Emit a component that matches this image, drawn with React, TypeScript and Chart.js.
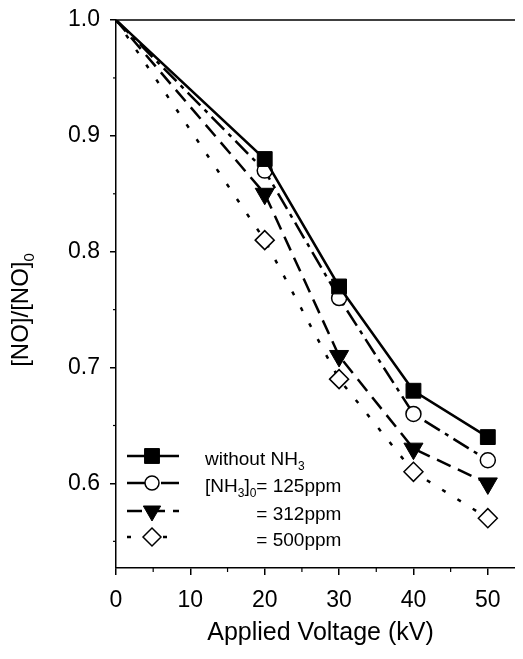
import { useEffect, useRef } from "react";
import { Chart, registerables } from "chart.js";
import { drawPoint } from "chart.js/helpers";

Chart.register(...registerables);

// ---------- data ----------
const voltages = [0, 20, 30, 40, 50];
const withoutNH3 = [1.0, 0.88, 0.77, 0.68, 0.64];
const nh3_125 = [1.0, 0.87, 0.76, 0.66, 0.62];
const nh3_312 = [1.0, 0.85, 0.71, 0.63, 0.6];
const nh3_500 = [1.0, 0.81, 0.69, 0.61, 0.57];

const xTicks = [0, 10, 20, 30, 40, 50];
const xMinorTicks = [5, 15, 25, 35, 45, 55];
const yTicks = [0.6, 0.7, 0.8, 0.9, 1.0];
const yMinorTicks = [0.55, 0.65, 0.75, 0.85, 0.95];

const xTitle = "Applied Voltage (kV)";
const yTitleParts: [string, boolean][] = [["[NO]/[NO]", false], ["0", true]];
const legendLabels: [string, boolean][][] = [
  [["without NH", false], ["3", true]],
  [["[NH", false], ["3", true], ["]", false], ["0", true], ["= 125ppm", false]],
  [["= 312ppm", false]],
  [["= 500ppm", false]],
];

const FONT = "'Liberation Sans', Arial, Helvetica, sans-serif";

function toPoints(ys: number[]) {
  return voltages.map((v, i) => ({ x: v, y: ys[i] }));
}

function drawRich(ctx: CanvasRenderingContext2D, parts: [string, boolean][], x: number, y: number, size: number, subSize: number, subDrop: number) {
  let cx = x;
  for (const [t, sub] of parts) {
    ctx.font = `${sub ? subSize : size}px ${FONT}`;
    ctx.fillText(t, cx, sub ? y + subDrop : y);
    cx += ctx.measureText(t).width;
  }
  return cx;
}

function measureRich(ctx: CanvasRenderingContext2D, parts: [string, boolean][], size: number, subSize: number) {
  let w = 0;
  for (const [t, sub] of parts) {
    ctx.font = `${sub ? subSize : size}px ${FONT}`;
    w += ctx.measureText(t).width;
  }
  return w;
}

const decorPlugin = {
  id: "decor",
  afterDraw(chart: any) {
    const { ctx, chartArea: ca, scales } = chart;
    const xs = scales.x;
    const ys = scales.y;
    ctx.save();
    ctx.strokeStyle = "#000";
    ctx.fillStyle = "#000";
    ctx.setLineDash([]);
    // top frame
    ctx.lineWidth = 1.5;
    ctx.beginPath();
    ctx.moveTo(ca.left, ca.top);
    ctx.lineTo(ca.right, ca.top);
    ctx.stroke();
    // minor ticks
    ctx.lineWidth = 1.2;
    for (const v of xMinorTicks) {
      const px = xs.getPixelForValue(v);
      ctx.beginPath();
      ctx.moveTo(px, ca.bottom);
      ctx.lineTo(px, ca.bottom + 4);
      ctx.stroke();
    }
    for (const v of yMinorTicks) {
      const py = ys.getPixelForValue(v);
      ctx.beginPath();
      ctx.moveTo(ca.left, py);
      ctx.lineTo(ca.left - 3, py);
      ctx.stroke();
    }

    // y title (rotated, with subscript)
    ctx.save();
    const tw = measureRich(ctx, yTitleParts, 24, 15);
    ctx.translate(ca.left - 95, 302);
    ctx.rotate(-Math.PI / 2);
    ctx.textBaseline = "middle";
    ctx.textAlign = "left";
    drawRich(ctx, yTitleParts, -tw / 2, 0, 24, 15, 9);
    ctx.restore();

    // legend
    const rowOffsets = [112, 85, 57, 31];
    const lx0 = ca.left + 11;
    const lx1 = ca.left + 63;
    const mx = ca.left + 36;
    const tx = ca.left + 89;
    ctx.textBaseline = "middle";
    ctx.textAlign = "left";
    const eqX = tx + measureRich(ctx, legendLabels[1].slice(0, 4), 19, 12);
    chart.data.datasets.forEach((ds: any, i: number) => {
      const ry = ca.bottom - rowOffsets[i];
      ctx.save();
      ctx.strokeStyle = "#000";
      ctx.lineWidth = ds.borderWidth;
      ctx.setLineDash(ds.borderDash || []);
      ctx.beginPath();
      ctx.moveTo(lx0, ry);
      ctx.lineTo(lx1, ry);
      ctx.stroke();
      ctx.setLineDash([]);
      ctx.fillStyle = ds.pointBackgroundColor;
      ctx.strokeStyle = "#000";
      ctx.lineWidth = ds.pointBorderWidth;
      drawPoint(ctx, { pointStyle: ds.pointStyle, rotation: ds.pointRotation || 0, radius: ds.legendRadius, borderWidth: ds.pointBorderWidth }, mx, ry);
      ctx.restore();
      ctx.fillStyle = "#000";
      const startX = i < 2 ? tx : eqX;
      drawRich(ctx, legendLabels[i], startX, ry + 4, 19, 12, 7);
    });
    ctx.restore();
  },
};

function radiusFor(r: number) {
  return (c: any) => (c.dataIndex === 0 ? 0 : r);
}

export default function App() {
  const ref = useRef<HTMLCanvasElement | null>(null);
  useEffect(() => {
    if (!ref.current) return;
    const chart = new Chart(ref.current, {
      type: "line",
      data: {
        datasets: [
          {
            label: "without NH3",
            data: toPoints(withoutNH3),
            borderColor: "#000",
            borderWidth: 2.5,
            borderDash: [],
            pointStyle: "rect",
            pointRadius: radiusFor(10.5),
            legendRadius: 10.5,
            pointBackgroundColor: "#000",
            pointBorderColor: "#000",
            pointBorderWidth: 1,
          } as any,
          {
            label: "[NH3]0= 125ppm",
            data: toPoints(nh3_125),
            borderColor: "#000",
            borderWidth: 2.5,
            borderDash: [18, 6, 4, 6],
            pointStyle: "circle",
            pointRadius: radiusFor(7.5),
            legendRadius: 7,
            pointBackgroundColor: "#fff",
            pointBorderColor: "#000",
            pointBorderWidth: 1.5,
          } as any,
          {
            label: "= 312ppm",
            data: toPoints(nh3_312),
            borderColor: "#000",
            borderWidth: 2.5,
            borderDash: [15, 8],
            pointStyle: "triangle",
            pointRotation: 180,
            pointRadius: radiusFor(11),
            legendRadius: 10,
            pointBackgroundColor: "#000",
            pointBorderColor: "#000",
            pointBorderWidth: 1,
          } as any,
          {
            label: "= 500ppm",
            data: toPoints(nh3_500),
            borderColor: "#000",
            borderWidth: 2.5,
            borderDash: [4, 14],
            pointStyle: "rectRot",
            pointRadius: radiusFor(9.5),
            legendRadius: 9,
            pointBackgroundColor: "#fff",
            pointBorderColor: "#000",
            pointBorderWidth: 1.5,
          } as any,
        ],
      },
      options: {
        responsive: false,
        animation: false,
        events: [],
        layout: { padding: { left: 0, right: 23, top: 9, bottom: 0 } },
        plugins: { legend: { display: false }, tooltip: { enabled: false } },
        elements: { line: { tension: 0 } },
        scales: {
          x: {
            type: "linear",
            min: 0,
            max: 55,
            afterBuildTicks: (s: any) => {
              s.ticks = xTicks.map((v) => ({ value: v }));
            },
            afterFit: (s: any) => {
              s.height = 83;
              s.paddingLeft = 0;
              s.paddingRight = 0;
            },
            ticks: {
              font: { family: FONT, size: 23 },
              color: "#000",
              padding: 12,
              maxRotation: 0,
              autoSkip: false,
              callback: (v: any) => String(v),
            },
            grid: { display: true, drawOnChartArea: false, drawTicks: true, tickLength: 7, color: "#000", lineWidth: 1.5 },
            border: { display: true, color: "#000", width: 1.5 },
            title: {
              display: true,
              text: xTitle,
              font: { family: FONT, size: 25 },
              color: "#000",
              padding: { top: 0, bottom: 3 },
            },
          },
          y: {
            type: "linear",
            min: 0.527,
            max: 1.0,
            afterBuildTicks: (s: any) => {
              s.ticks = yTicks.map((v) => ({ value: v }));
            },
            afterFit: (s: any) => {
              s.width = 108;
              s.paddingTop = 0;
              s.paddingBottom = 0;
            },
            ticks: {
              font: { family: FONT, size: 23 },
              color: "#000",
              padding: 10,
              autoSkip: false,
              callback: (v: any) => Number(v).toFixed(1),
            },
            grid: { display: true, drawOnChartArea: false, drawTicks: true, tickLength: 6, color: "#000", lineWidth: 1.5 },
            border: { display: true, color: "#000", width: 1.5 },
          },
        },
      } as any,
      plugins: [decorPlugin],
    });
    return () => chart.destroy();
  }, []);

  return (
    <div style={{ width: 515, height: 643, overflow: "hidden" }}>
      <canvas ref={ref} width={540} height={643} style={{ display: "block", width: 540, height: 643 }} />
    </div>
  );
}
